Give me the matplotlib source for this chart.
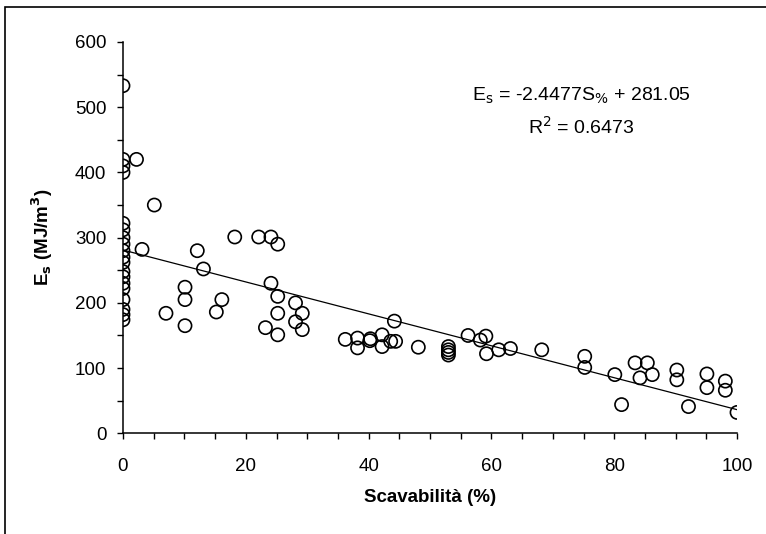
import numpy as np
import matplotlib.pyplot as plt
from matplotlib.patches import Rectangle
from matplotlib.ticker import MultipleLocator

# scavabilita (%) and specific energy Es (MJ/m3)
scav = [
    0, 0, 0, 0, 0, 0, 0, 0, 0, 0, 0, 0, 0, 0, 0, 0, 0, 0, 0,
    2.2, 5.1, 3.1, 7, 10.1, 10.1, 10.1, 12.1, 13.1, 15.2, 16.1, 18.2,
    22.1, 24.1, 25.2, 24.1, 25.2, 25.2, 23.2, 25.2, 28.1, 29.2, 28.1, 29.2,
    36.2, 38.2, 38.2, 40.2, 40.3, 42.2, 42.2, 43.6, 44.4, 44.2,
    48.1, 53.0, 53.0, 53.0, 53.0, 56.2, 59.1, 58.2, 59.2, 61.2, 63.1,
    68.2, 75.2, 75.2, 80.1, 81.2, 83.4, 85.4, 84.2, 86.2, 90.2, 90.2,
    92.1, 95.1, 95.1, 98.1, 98.1, 100,
]
energy = [
    533, 420, 410, 400, 322, 312, 300, 290, 280, 270, 262, 248, 240, 230,
    222, 205, 190, 182, 174,
    420, 350, 282, 184, 224, 205, 165, 280, 252, 186, 205, 301,
    301, 301, 290, 230, 210, 184, 162, 151, 200, 184, 171, 159,
    144, 146, 131, 142, 145, 151, 133, 141, 141, 172,
    132, 133, 128, 124, 120, 150, 149, 143, 122, 128, 130,
    128, 118, 101, 90, 44, 108, 108, 85, 90, 97, 82,
    41, 91, 70, 80, 66, 32,
]
slope = -2.4477
intercept = 281.05

fig = plt.figure(figsize=(7.66, 5.34), dpi=100)
plt.rcParams['font.family'] = ['Liberation Sans', 'DejaVu Sans']

# scanned page frame
fig.patches.append(Rectangle((5 / 766, -0.1), 1.2, 1 - 7 / 534 + 0.1,
                             transform=fig.transFigure, fill=False,
                             edgecolor='black', linewidth=1.2))

ax = fig.add_axes([123 / 766, 1 - 433.3 / 534, 614 / 766, 391.3 / 534])
ax.scatter(scav, energy, s=90, facecolors='none', edgecolors='black',
           linewidths=1.2, zorder=3)
xl = np.array([0, 100])
ax.plot(xl, slope * xl + intercept, color='black', linewidth=0.9, zorder=2)

ax.set_xlim(0, 100)
ax.set_ylim(0, 600)
ax.xaxis.set_major_locator(MultipleLocator(20))
ax.xaxis.set_minor_locator(MultipleLocator(5))
ax.yaxis.set_major_locator(MultipleLocator(100))
ax.yaxis.set_minor_locator(MultipleLocator(50))
ax.tick_params(which='both', direction='out', length=4, width=1,
               labelsize=13.5)
ax.tick_params(axis='x', pad=14)
ax.tick_params(axis='y', pad=8)
for side in ['top', 'right']:
    ax.spines[side].set_visible(False)
for side in ['left', 'bottom']:
    ax.spines[side].set_linewidth(1.1)

ax.set_xlabel('Scavabilità (%)', fontsize=13.5, fontweight='bold',
              labelpad=10)
ax.set_ylabel(r'E$_\mathbf{s}$ (MJ/m$^\mathbf{3}$)', fontsize=13.5,
              fontweight='bold', labelpad=14)

ax.text(0.746, 0.862, r'E$_\mathrm{s}$ = -2.4477S$_{\%}$ + 281.05',
        transform=ax.transAxes, ha='center', va='center', fontsize=14)
ax.text(0.746, 0.783, r'R$^2$ = 0.6473', transform=ax.transAxes,
        ha='center', va='center', fontsize=14)

fig.savefig('out.png', dpi=100)
